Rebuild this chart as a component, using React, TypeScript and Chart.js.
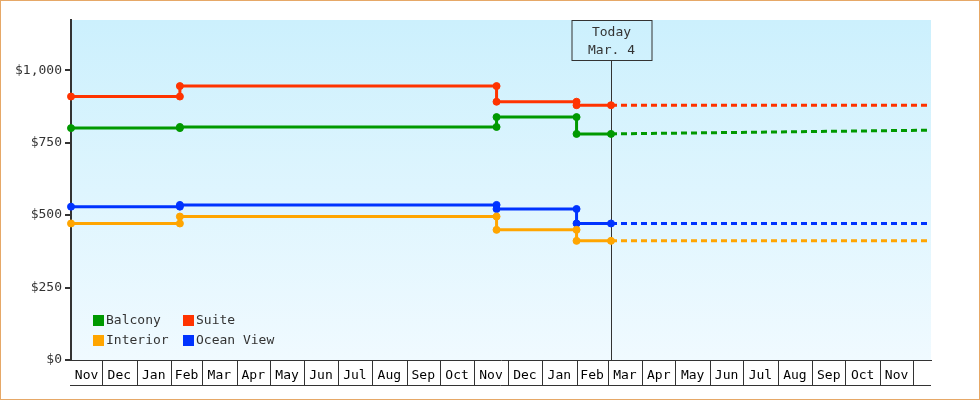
import React, { useEffect, useRef } from 'react';
import { Chart, registerables } from 'chart.js';

Chart.register(...registerables);

const START_DATE = '2017-11-03';
const END_DATE = '2019-12-17';
const TODAY_DATE = '2019-03-04';
const TODAY_LABEL = ['Today', 'Mar. 4'];

const CHANGE_DATES = ['2017-11-03', '2018-02-09', '2018-11-21', '2019-02-01'];

const SERIES_NAMES = ['Balcony', 'Suite', 'Interior', 'Ocean View'];
const SERIES_COLORS = ['#009900', '#ff3300', '#ffa500', '#0033ff'];

const BALCONY = [800, 804, 838, 780];
const SUITE = [909, 945, 891, 879];
const INTERIOR = [471, 495, 449, 411];
const OCEAN_VIEW = [529, 535, 521, 471];

const BALCONY_FORECAST = [780, 793];
const SUITE_FORECAST = [879, 879];
const INTERIOR_FORECAST = [411, 411];
const OCEAN_VIEW_FORECAST = [471, 471];

const MONTH_LABELS = [
  'Nov', 'Dec', 'Jan', 'Feb', 'Mar', 'Apr', 'May', 'Jun', 'Jul', 'Aug', 'Sep', 'Oct',
  'Nov', 'Dec', 'Jan', 'Feb', 'Mar', 'Apr', 'May', 'Jun', 'Jul', 'Aug', 'Sep', 'Oct', 'Nov',
];

const Y_TICKS = [0, 250, 500, 750, 1000];
const Y_MAX = 1173;

const FONT = "'DejaVu Sans Mono', monospace";

const dayOf = (iso: string) => (Date.parse(iso + 'T00:00:00Z') - Date.parse(START_DATE + 'T00:00:00Z')) / 864e5;

// month boundaries (calendar): start date, then the 1st of each following month
function monthBoundaries(): number[] {
  const out = [dayOf(START_DATE)];
  const s = new Date(START_DATE + 'T00:00:00Z');
  let y = s.getUTCFullYear();
  let m = s.getUTCMonth() + 1;
  for (let i = 0; i < MONTH_LABELS.length; i++) {
    if (m > 11) { m = 0; y++; }
    const iso = `${y}-${String(m + 1).padStart(2, '0')}-01`;
    out.push(dayOf(iso));
    m++;
  }
  return out;
}

function buildSteps(values: number[]) {
  const pts: { x: number; y: number }[] = [];
  values.forEach((v, i) => {
    const x = dayOf(CHANGE_DATES[i]);
    if (i > 0) pts.push({ x, y: values[i - 1] });
    pts.push({ x, y: v });
  });
  pts.push({ x: dayOf(TODAY_DATE), y: values[values.length - 1] });
  return pts;
}

function buildForecast(values: number[]) {
  return [
    { x: dayOf(TODAY_DATE), y: values[0] },
    { x: dayOf(END_DATE), y: values[1] },
  ];
}

export default function App() {
  const ref = useRef<HTMLCanvasElement | null>(null);

  useEffect(() => {
    const canvas = ref.current;
    if (!canvas) return;
    const bounds = monthBoundaries();
    const mids = MONTH_LABELS.map((_, i) => (bounds[i] + bounds[i + 1]) / 2);

    const mainSeries = [BALCONY, SUITE, INTERIOR, OCEAN_VIEW];
    const forecasts = [BALCONY_FORECAST, SUITE_FORECAST, INTERIOR_FORECAST, OCEAN_VIEW_FORECAST];

    const datasets: any[] = [];
    mainSeries.forEach((vals, i) => {
      datasets.push({
        label: SERIES_NAMES[i],
        data: buildSteps(vals),
        borderColor: SERIES_COLORS[i],
        backgroundColor: SERIES_COLORS[i],
        borderWidth: 3,
        pointRadius: 3.5,
        pointBorderWidth: 1,
        pointBackgroundColor: SERIES_COLORS[i],
        pointBorderColor: SERIES_COLORS[i],
        tension: 0,
        fill: false,
        clip: false,
      });
    });
    forecasts.forEach((vals, i) => {
      datasets.push({
        label: SERIES_NAMES[i] + ' forecast',
        data: buildForecast(vals),
        borderColor: SERIES_COLORS[i],
        borderWidth: 3,
        borderDash: [6, 4],
        pointRadius: 0,
        tension: 0,
        fill: false,
      });
    });

    const decor = {
      id: 'decor',
      beforeDraw(chart: any) {
        const { ctx, chartArea: a } = chart;
        ctx.save();
        ctx.fillStyle = '#ffffff';
        ctx.fillRect(0, 0, chart.width, chart.height);
        const g = ctx.createLinearGradient(0, a.top, 0, a.bottom);
        g.addColorStop(0, '#ccf0fd');
        g.addColorStop(1, '#f0faff');
        ctx.fillStyle = g;
        ctx.fillRect(a.left, a.top, a.right - a.left, a.bottom - a.top);
        ctx.restore();
      },
      beforeDatasetsDraw(chart: any) {
        const { ctx, chartArea: a, scales } = chart;
        const tx = Math.round(scales.x.getPixelForValue(dayOf(TODAY_DATE))) + 0.5;
        const boxW = 80;
        const boxH = 40;
        const boxTop = a.top + 0.5;
        ctx.save();
        ctx.strokeStyle = '#333333';
        ctx.lineWidth = 1;
        ctx.beginPath();
        ctx.moveTo(tx, boxTop + boxH);
        ctx.lineTo(tx, a.bottom);
        ctx.stroke();
        ctx.strokeRect(Math.round(tx - boxW / 2), boxTop, boxW, boxH);
        ctx.fillStyle = '#333333';
        ctx.font = `13px ${FONT}`;
        ctx.textAlign = 'center';
        ctx.textBaseline = 'middle';
        ctx.fillText(TODAY_LABEL[0], tx, boxTop + 12);
        ctx.fillText(TODAY_LABEL[1], tx, boxTop + 30);
        ctx.restore();
      },
      afterDraw(chart: any) {
        const { ctx, chartArea: a, scales } = chart;
        ctx.save();
        // month cells
        ctx.strokeStyle = '#333333';
        ctx.lineWidth = 1;
        const rowBottom = a.bottom + 25;
        ctx.beginPath();
        for (let i = 1; i < bounds.length; i++) {
          const x = Math.round(scales.x.getPixelForValue(bounds[i])) + 0.5;
          ctx.moveTo(x, a.bottom);
          ctx.lineTo(x, rowBottom);
        }
        ctx.moveTo(a.left - 1, rowBottom + 0.5);
        ctx.lineTo(a.right, rowBottom + 0.5);
        ctx.stroke();

        // legend
        ctx.font = `13px ${FONT}`;
        ctx.textBaseline = 'middle';
        ctx.textAlign = 'left';
        const cols = [a.left + 22, a.left + 112];
        const rows = [a.bottom - 45, a.bottom - 25];
        SERIES_NAMES.forEach((name, i) => {
          const cx = cols[i % 2];
          const cy = rows[Math.floor(i / 2)];
          ctx.fillStyle = SERIES_COLORS[i];
          ctx.fillRect(cx, cy, 11, 11);
          ctx.fillStyle = '#333333';
          ctx.fillText(name, cx + 13, cy + 6);
        });

        // outer border
        ctx.strokeStyle = '#e6a867';
        ctx.lineWidth = 1;
        ctx.strokeRect(0.5, 0.5, chart.width - 1, chart.height - 1);
        ctx.restore();
      },
    };

    const chart = new Chart(canvas, {
      type: 'line',
      data: { datasets },
      options: {
        animation: false,
        responsive: false,
        maintainAspectRatio: false,
        devicePixelRatio: 1,
        layout: { padding: { left: 0, right: 49, top: 20, bottom: 0 } },
        plugins: { legend: { display: false }, tooltip: { enabled: false } },
        scales: {
          x: {
            type: 'linear',
            min: 0,
            max: dayOf(END_DATE),
            afterBuildTicks: (scale: any) => {
              scale.ticks = mids.map((v) => ({ value: v }));
            },
            afterFit: (scale: any) => {
              scale.height = 40;
            },
            grid: { display: false },
            border: { display: true, color: '#333333', width: 1 },
            ticks: {
              autoSkip: false,
              maxRotation: 0,
              minRotation: 0,
              padding: 0,
              color: '#000000',
              font: { family: FONT, size: 13 },
              callback: (_v: any, i: number) => MONTH_LABELS[i],
            },
          },
          y: {
            min: 0,
            max: Y_MAX,
            afterBuildTicks: (scale: any) => {
              scale.ticks = Y_TICKS.map((v) => ({ value: v }));
            },
            afterFit: (scale: any) => {
              scale.width = 71;
            },
            grid: {
              display: true,
              drawOnChartArea: false,
              drawTicks: true,
              tickLength: 6,
              color: '#333333',
              lineWidth: 2,
            },
            border: { display: true, color: '#333333', width: 2 },
            ticks: {
              padding: 3,
              color: '#333333',
              font: { family: FONT, size: 13 },
              callback: (v: any) => '$' + Number(v).toLocaleString('en-US'),
            },
          },
        },
      },
      plugins: [decor],
    });

    return () => chart.destroy();
  }, []);

  return (
    <div style={{ position: 'fixed', left: 0, top: 0, width: 980, height: 400 }}>
      <canvas ref={ref} width={980} height={400} style={{ display: 'block', width: 980, height: 400 }} />
    </div>
  );
}
